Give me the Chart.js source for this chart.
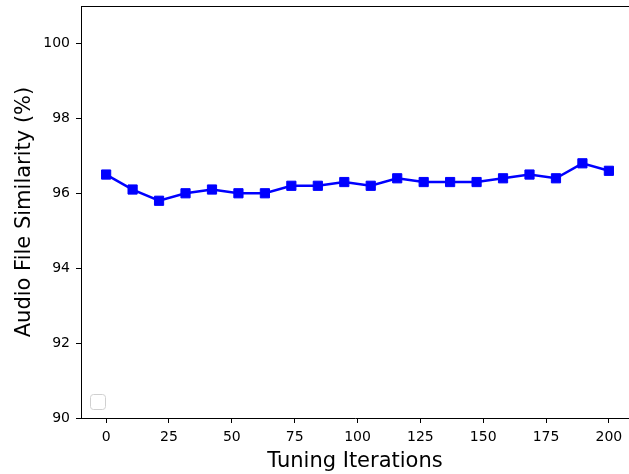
<!DOCTYPE html>
<html>
<head>
<meta charset="utf-8">
<script src="https://cdn.jsdelivr.net/npm/chart.js@4.4.0/dist/chart.umd.min.js"></script>
<style>
  html, body { margin: 0; padding: 0; background: #fff; }
  #wrap { width: 629px; height: 474px; }
</style>
</head>
<body>
<div id="wrap"><canvas id="chart"></canvas></div>
<script>
// Dados
const iterations = [0, 10.53, 21.05, 31.58, 42.11, 52.63, 63.16, 73.68, 84.21, 94.74,
    105.26, 115.79, 126.32, 136.84, 147.37, 157.89, 168.42, 178.95, 189.47, 200];
const similarity = [96.5, 96.1, 95.8, 96.0, 96.1, 96.0, 96.0, 96.2, 96.2, 96.3,
    96.2, 96.4, 96.3, 96.3, 96.3, 96.4, 96.5, 96.4, 96.8, 96.6];
const xTicks = [0, 25, 50, 75, 100, 125, 150, 175, 200];
const yTicks = [90, 92, 94, 96, 98, 100];

const FONT = 'DejaVu Sans';

// Moldura superior + caixa de legenda vazia
const framePlugin = {
    id: 'frame',
    afterDraw(chart) {
        const { ctx, chartArea: a } = chart;
        ctx.save();
        ctx.strokeStyle = '#000';
        ctx.lineWidth = 1;
        ctx.beginPath();
        ctx.moveTo(a.left, a.top + 0.5);
        ctx.lineTo(a.right, a.top + 0.5);
        ctx.stroke();

        ctx.strokeStyle = '#d0d0d0';
        ctx.beginPath();
        ctx.roundRect(a.left + 9.5, a.bottom - 23.5, 15, 15, 3);
        ctx.stroke();
        ctx.restore();
    }
};

const ctx = document.getElementById('chart').getContext('2d');
new Chart(ctx, {
    type: 'line',
    data: {
        datasets: [{
            data: iterations.map((x, i) => ({ x: x, y: similarity[i] })),
            borderColor: '#0000ff',
            backgroundColor: '#0000ff',
            borderWidth: 2.5,
            pointStyle: 'rect',
            pointRadius: 6.5,
            pointBorderWidth: 1,
            pointBorderColor: '#0000ff',
            pointBackgroundColor: '#0000ff',
            tension: 0,
            fill: false
        }]
    },
    options: {
        responsive: true,
        maintainAspectRatio: false,
        animation: false,
        layout: { autoPadding: false, padding: { top: 6, right: 0, left: 0, bottom: 0 } },
        plugins: {
            legend: { display: false },
            tooltip: { enabled: false }
        },
        scales: {
            x: {
                type: 'linear',
                min: -10,
                max: 208,
                afterBuildTicks: (s) => { s.ticks = xTicks.map(v => ({ value: v })); },
                afterFit: (s) => { s.height = 56; s.paddingLeft = 0; s.paddingRight = 0; },
                grid: { display: true, drawOnChartArea: false, drawTicks: true, tickLength: 5, tickColor: '#000' },
                border: { display: true, color: '#000', width: 1 },
                ticks: { color: '#000', font: { family: FONT, size: 14 }, padding: 6, maxRotation: 0 },
                title: { display: true, text: 'Tuning Iterations', color: '#000',
                    font: { family: FONT, size: 21 }, padding: { top: 0, bottom: 0 } }
            },
            y: {
                min: 90,
                max: 101,
                afterBuildTicks: (s) => { s.ticks = yTicks.map(v => ({ value: v })); },
                afterFit: (s) => { s.width = 81; s.paddingTop = 0; s.paddingBottom = 0; },
                grid: { display: true, drawOnChartArea: false, drawTicks: true, tickLength: 5, tickColor: '#000' },
                border: { display: true, color: '#000', width: 1 },
                ticks: { color: '#000', font: { family: FONT, size: 14 }, padding: 6 },
                title: { display: true, text: 'Audio File Similarity (%)', color: '#000',
                    font: { family: FONT, size: 21 }, padding: { top: 12, bottom: 0 } }
            }
        }
    },
    plugins: [framePlugin]
});
</script>
</body>
</html>
